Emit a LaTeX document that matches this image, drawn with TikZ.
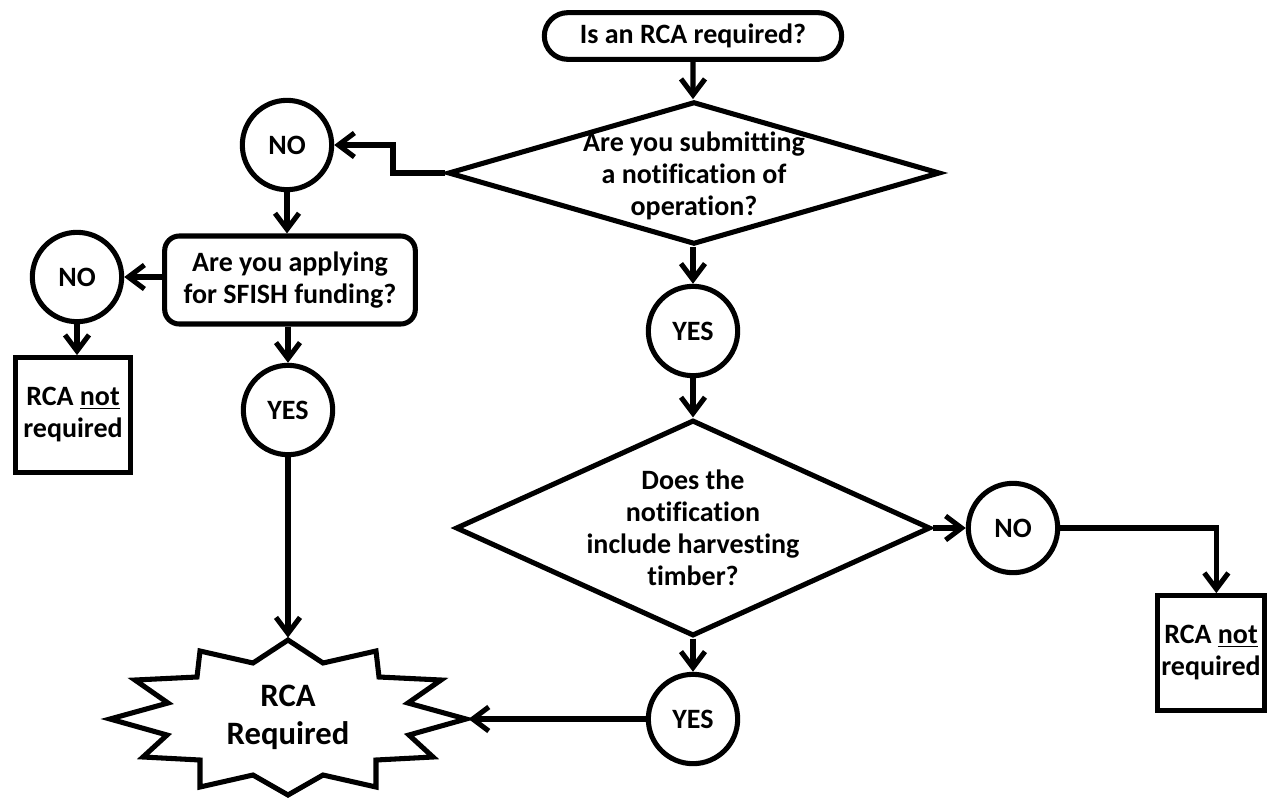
\documentclass[tikz,border=0pt]{standalone}
\usepackage{fontspec}
\setmainfont{Carlito}[Ligatures={NoCommon}]
\usetikzlibrary{arrows.meta,shapes.geometric,shapes.misc}
\begin{document}
\begin{tikzpicture}[x=0.75pt,y=-0.75pt,
  every node/.style={font=\fontsize{21}{24}\selectfont\bfseries, align=center, inner sep=0pt, line width=3.8pt},
  ln/.style={line width=3.8pt},
  arr/.style={ln, -{Straight Barb[length=12pt,width=18pt]}},
  circ/.style={draw, circle, minimum size=67pt},
  stad/.style={draw, rounded rectangle, minimum width=223pt, minimum height=35pt},
  dia/.style={draw, diamond},
  qbox/.style={draw, rectangle, rounded corners=11pt, minimum width=188pt, minimum height=66pt},
  endbox/.style={draw, rectangle, minimum height=86pt},
  txt/.style={font=\fontsize{21}{24}\selectfont\bfseries, align=center},
  bigtxt/.style={font=\fontsize{24.5}{28}\selectfont\bfseries, align=center}
]
\useasboundingbox (0,0) rectangle (1278,797);

% star outline
\draw[ln, line join=miter] (288,640) -- (253,663) -- (200,651) -- (197,677) -- (135,680) -- (168,703) -- (110,719) -- (167,735) -- (143,757) -- (200,760) -- (200,787) -- (253,775) -- (288,795) -- (323,775) -- (376,787) -- (376,760) -- (433,757) -- (409,735) -- (466,719) -- (408,703) -- (441,680) -- (379,677) -- (376,651) -- (323,663) -- cycle;

\node[stad] (start) at (693,36) {Is an RCA required?};
\node[dia, minimum width=369pt, minimum height=107pt,
  label={[txt, yshift=-2.5pt]center:Are you submitting\\a notification of\\operation?}] (d1) at (694,173) {};
\node[circ] (no1) at (287,145) {NO};
\node[qbox] (q2) at (290,280) {Are you applying\\for SFISH funding?};
\node[circ] (no2) at (77,277) {NO};
\node[endbox, minimum width=86pt] (boxL) at (73,415) {RCA \underline{not}\\required};
\node[circ] (yes1) at (288,410) {YES};
\node[rectangle, minimum width=267pt, minimum height=116pt, bigtxt] (star) at (288,717.5) {RCA\\Required};
\node[circ] (yes2) at (693,331) {YES};
\node[dia, minimum width=356pt, minimum height=162pt,
  label={[txt]center:Does the\\notification\\include harvesting\\timber?}] (d2) at (693,528) {};
\node[circ] (no3) at (1013,528) {NO};
\node[endbox, minimum width=80pt] (boxR) at (1211,653) {RCA \underline{not}\\required};
\node[circ] (yes3) at (693,719) {YES};

\coordinate (b1) at (393,173);
\draw[arr] (start) -- (start |- d1.north);
\draw[arr] (d1.west) -- (b1) |- (no1.east);
\draw[arr] (no1.south) -- (no1.south |- q2.north);
\draw[arr] (q2.west |- no2.east) -- (no2.east);
\draw[arr] (no2.south) -- (no2.south |- boxL.north);
\draw[arr] (yes1.north |- q2.south) -- (yes1.north);
\draw[arr] (yes1.south) -- (star.north);
\draw[arr] (d1.south -| yes2) -- (yes2.north);
\draw[arr] (yes2.south) -- (d2.north);
\draw[arr] (d2.east) -- (no3.west);
\draw[arr] (no3.east) -| ([xshift=4pt]boxR.north);
\draw[arr] (d2.south) -- (yes3.north);
\draw[arr] (yes3.west) -- (star.east |- yes3.west);
\end{tikzpicture}
\end{document}
